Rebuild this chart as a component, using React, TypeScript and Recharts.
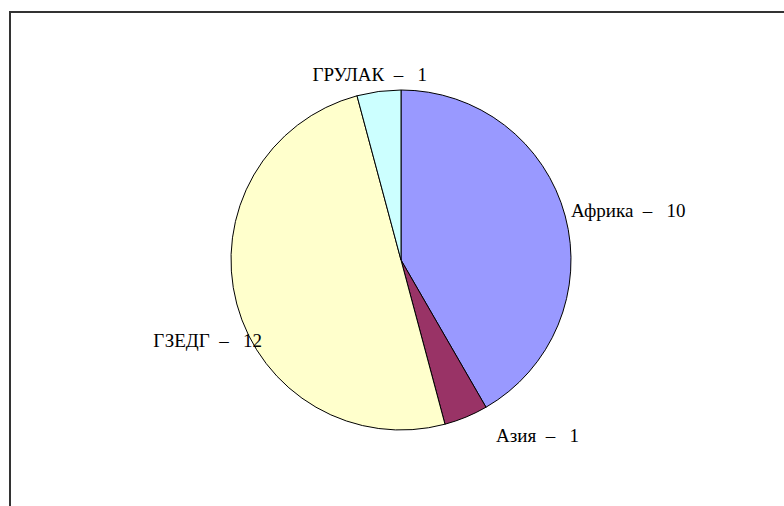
import React from 'react';
import { PieChart, Pie, Cell } from 'recharts';

const regions = ['Африка', 'Азия', 'ГЗЕДГ', 'ГРУЛАК'];
const counts = [10, 1, 12, 1];
const colors = ['#9999FF', '#993366', '#FFFFCC', '#CCFFFF'];

const data = regions.map((name, i) => ({ name, value: counts[i] }));

const RADIAN = Math.PI / 180;
const CX = 401;
const CY = 260;
const R = 170;

// small per-label nudges so the labels sit where the original ones do
const nudge: Record<string, { r: number; dx: number; dy: number; anchor: string }> = {
  'Африка': { r: 176, dx: 0, dy: -3, anchor: 'start' },
  'Азия': { r: 191, dx: 22, dy: 0, anchor: 'start' },
  'ГЗЕДГ': { r: 176, dx: 31, dy: 35, anchor: 'end' },
  'ГРУЛАК': { r: 186, dx: -7, dy: -1, anchor: 'middle' },
};

// mid angle of each slice, same convention as the Pie (start at 90°, clockwise)
const total = counts.reduce((a, b) => a + b, 0);
const midAngles = counts.map((v, i) => {
  const before = counts.slice(0, i).reduce((a, b) => a + b, 0);
  return 90 - ((before + v / 2) / total) * 360;
});

const shift: Record<string, string> = {
  start: 'translate(0, -50%)',
  end: 'translate(-100%, -50%)',
  middle: 'translate(-50%, -50%)',
};

export default function App() {
  return (
    <div style={{ position: 'fixed', left: 0, top: 0, width: 784, height: 506, background: '#fff', overflow: 'hidden' }}>
      <div
        style={{
          position: 'absolute',
          left: 9,
          top: 11,
          width: 820,
          height: 540,
          borderTop: '2px solid #333',
          borderLeft: '2px solid #333',
        }}
      />
      <div style={{ position: 'absolute', left: 0, top: 0 }}>
        <PieChart width={784} height={506} margin={{ top: 0, right: 0, bottom: 0, left: 0 }}>
          <Pie
            data={data}
            dataKey="value"
            nameKey="name"
            cx={CX}
            cy={CY}
            outerRadius={R}
            startAngle={90}
            endAngle={-270}
            stroke="#000"
            strokeWidth={1}
            isAnimationActive={false}
          >
            {data.map((d, i) => (
              <Cell key={`cell-${d.name}`} fill={colors[i]} />
            ))}
          </Pie>
        </PieChart>
      </div>

      {/* data labels */}
      {data.map((d, i) => {
        const n = nudge[d.name];
        const x = CX + n.r * Math.cos(-midAngles[i] * RADIAN) + n.dx;
        const y = CY + n.r * Math.sin(-midAngles[i] * RADIAN) + n.dy;
        return (
          <div
            key={`label-${d.name}`}
            style={{
              position: 'absolute',
              left: x,
              top: y,
              transform: shift[n.anchor],
              fontFamily: 'Liberation Serif',
              fontSize: 19,
              lineHeight: '22px',
              whiteSpace: 'pre',
              color: '#000',
            }}
          >
            {`${d.name}  –   ${d.value}`}
          </div>
        );
      })}
    </div>
  );
}
